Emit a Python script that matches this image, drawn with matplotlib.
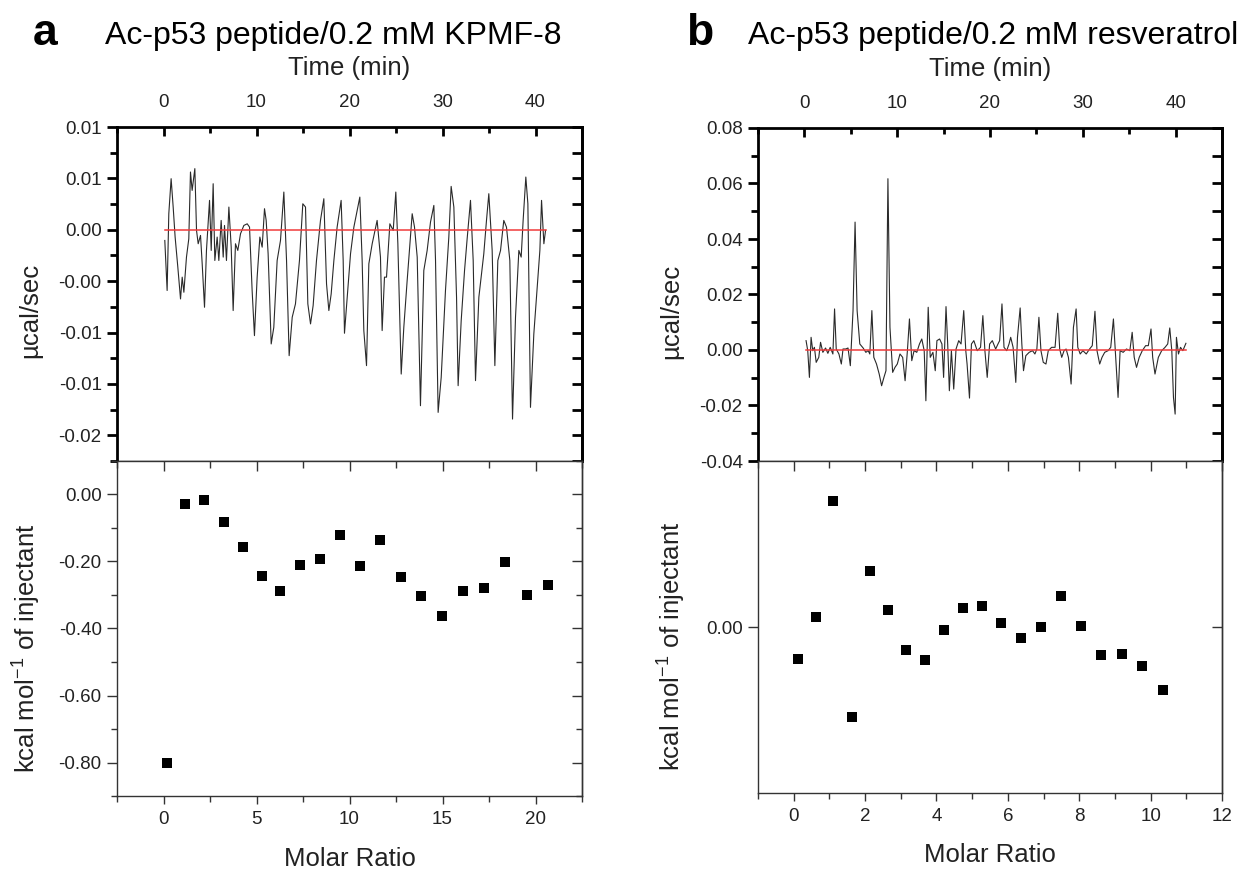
import numpy as np
import matplotlib
matplotlib.use("Agg")
import matplotlib.pyplot as plt
from matplotlib.ticker import MultipleLocator, FormatStrFormatter, NullLocator

plt.rcParams['font.family'] = ['Liberation Sans', 'DejaVu Sans']
plt.rcParams['mathtext.fontset'] = 'custom'
plt.rcParams['mathtext.rm'] = 'Liberation Sans'

# raw ITC traces: (time in min, power in 1e-3 ucal/sec)
trace_a = [
    (0.14, -1.04), (0.39, -5.91), (0.57, 1.56), (0.82, 4.97), (1.04, 2.21), (1.25, -0.71),
    (1.54, -3.64), (1.83, -6.73), (2.01, -4.61), (2.19, -6.08), (2.47, -2.66), (2.72, -0.88),
    (2.90, 5.62), (3.08, 3.83), (3.37, 5.95), (3.55, -0.06), (3.73, -1.36), (3.98, -0.55),
    (4.16, -3.31), (4.41, -7.54), (4.62, -2.01), (4.95, 2.86), (5.13, -2.01), (5.34, 4.48),
    (5.52, -2.99), (5.77, -0.71), (5.95, -2.99), (6.20, 0.91), (6.42, -2.66), (6.56, 0.42),
    (6.77, -2.99), (7.03, 2.21), (7.28, -1.69), (7.49, -7.86), (7.74, -1.36), (7.99, -2.01),
    (8.28, -0.39), (8.64, 0.42), (9.00, 0.58), (9.25, 0.26), (9.53, -5.91), (9.78, -10.30),
    (10.07, -4.61), (10.36, -0.71), (10.61, -1.69), (10.86, 2.05), (11.04, 0.91), (11.25, -2.34),
    (11.58, -11.11), (11.86, -9.49), (12.22, -2.99), (12.58, -1.04), (12.94, 3.67), (13.23, -2.99),
    (13.51, -12.25), (13.84, -8.51), (14.19, -7.21), (14.62, -2.99), (14.98, 2.53), (15.27, 2.21),
    (15.52, -7.21), (15.81, -9.16), (16.09, -7.37), (16.45, -2.99), (16.88, 0.91), (17.24, 3.02),
    (17.53, -5.26), (17.78, -7.86), (18.03, -6.24), (18.32, -2.99), (18.67, 0.26), (19.10, 2.86),
    (19.32, -2.99), (19.46, -10.07), (19.75, -6.56), (20.11, -2.34), (20.47, 0.26), (20.82, 1.88),
    (21.11, 3.18), (21.36, -2.99), (21.54, -9.81), (21.83, -13.22), (22.08, -3.31), (22.44, -1.36),
    (22.97, 0.91), (23.33, -2.66), (23.51, -9.81), (23.76, -4.61), (23.98, -4.61), (24.34, 0.58),
    (24.70, -0.06), (24.98, 3.67), (25.20, -1.36), (25.56, -14.04), (25.84, -9.49), (26.20, -4.94),
    (26.74, 1.56), (26.99, 0.26), (27.28, -2.66), (27.63, -17.12), (27.99, -3.96), (28.35, -2.01),
    (28.71, 0.75), (29.07, 2.37), (29.25, -2.99), (29.53, -17.77), (29.86, -14.36), (30.32, -5.91),
    (30.68, -0.71), (30.93, 4.22), (31.22, 2.21), (31.51, -6.56), (31.68, -15.17), (32.01, -8.84),
    (32.37, -3.96), (32.65, -0.88), (33.01, 2.86), (33.30, -2.99), (33.55, -14.68), (33.91, -6.56),
    (34.44, -2.34), (34.73, 0.91), (34.98, 3.51), (35.34, -2.01), (35.63, -13.22), (35.95, -2.99),
    (36.24, -2.01), (36.59, 0.91), (36.88, 0.26), (37.24, -2.99), (37.53, -18.42), (37.85, -8.51),
    (38.21, -2.01), (38.46, -2.66), (38.67, 0.91), (38.96, 5.13), (39.18, 2.53), (39.46, -17.28),
    (39.82, -10.14), (40.18, -5.59), (40.47, -2.01), (40.65, 2.86), (40.90, -1.36), (41.08, -0.06),
]

trace_b = [
    (0.18, 3.37), (0.36, -0.24), (0.54, -9.87), (0.72, 4.57), (0.90, -0.24), (1.08, 0.96),
    (1.27, -4.45), (1.55, -2.65), (1.74, 2.77), (1.99, -0.84), (2.28, 0.72), (2.53, -1.20),
    (2.78, 0.96), (3.07, -1.44), (3.25, 14.80), (3.43, 0.36), (3.72, -1.44), (3.98, -5.05),
    (4.16, 0.36), (4.45, 0.36), (4.70, 0.72), (4.95, -5.66), (5.24, 14.20), (5.46, 46.09),
    (5.68, 14.20), (5.97, 2.17), (6.33, 0.72), (6.62, -0.84), (6.87, -0.24), (7.05, -1.44),
    (7.27, 14.20), (7.48, -2.65), (7.77, -5.05), (8.06, -8.66), (8.32, -12.88), (8.57, -9.87),
    (8.79, -7.46), (9.00, 61.73), (9.22, 8.18), (9.51, -8.06), (9.76, -6.26), (10.01, -5.05),
    (10.30, -1.44), (10.59, -2.65), (10.85, -11.07), (11.10, -0.24), (11.32, 11.19), (11.57, -3.85),
    (11.82, -0.24), (12.11, -0.84), (12.40, 2.17), (12.65, 3.97), (12.91, -0.24), (13.09, -18.29),
    (13.34, 15.40), (13.56, -2.65), (13.85, -0.84), (14.10, -7.46), (14.28, 3.37), (14.57, 3.97),
    (14.82, 2.17), (15.00, -9.87), (15.26, 15.64), (15.44, 2.17), (15.62, -14.68), (15.84, -0.24),
    (16.09, -14.08), (16.34, 0.36), (16.63, 3.37), (16.88, 2.17), (17.17, 14.20), (17.39, -0.24),
    (17.53, -5.05), (17.79, -17.33), (18.00, 2.17), (18.26, 3.37), (18.62, -0.24), (18.98, 0.96),
    (19.23, 12.39), (19.45, -0.24), (19.70, -9.87), (19.96, 2.17), (20.25, 3.37), (20.61, 0.36),
    (20.86, 2.17), (21.04, 3.37), (21.29, 16.61), (21.51, 0.96), (21.80, -0.24), (22.05, 2.17),
    (22.23, 4.57), (22.49, 0.96), (22.78, -11.67), (22.96, 4.57), (23.25, 15.16), (23.43, 2.17),
    (23.61, -7.46), (23.86, -2.05), (24.22, -0.84), (24.58, -0.24), (24.84, -1.44), (25.05, 0.36),
    (25.27, 11.79), (25.49, -0.24), (25.74, -4.45), (26.03, -5.05), (26.28, -0.24), (26.64, 0.96),
    (27.01, 0.96), (27.30, 13.24), (27.51, 0.36), (27.73, -2.65), (27.98, -0.24), (28.20, 0.36),
    (28.45, -2.65), (28.74, -12.27), (28.99, 8.18), (29.28, 14.80), (29.46, 0.96), (29.72, -1.44),
    (30.01, -0.24), (30.37, -1.44), (30.73, 0.36), (31.02, 1.56), (31.31, 13.96), (31.53, -0.24),
    (31.82, -5.05), (32.07, -2.65), (32.36, -0.84), (32.72, -0.24), (33.01, 0.96), (33.30, 11.19),
    (33.55, -2.65), (33.80, -17.09), (34.02, -0.24), (34.35, -0.84), (34.71, 0.36), (35.07, -0.24),
    (35.32, 6.38), (35.54, -2.65), (35.79, -6.26), (36.08, -2.65), (36.41, -0.24), (36.77, 1.56),
    (37.06, 1.56), (37.35, 7.58), (37.53, -2.65), (37.78, -8.66), (38.14, -2.65), (38.50, -0.24),
    (38.86, 0.96), (39.15, 2.17), (39.37, 7.94), (39.59, -0.24), (39.77, -17.09), (39.95, -23.10),
    (40.09, 4.57), (40.31, -1.44), (40.53, 0.96), (40.78, -0.24), (41.11, 2.41),
]

baseline_a = [0.14, 41.1]
baseline_b = [0.18, 41.1]

# integrated heats per injection
ratio_a = [0.2, 1.18, 2.2, 3.23, 4.25, 5.27, 6.29, 7.35, 8.4, 9.5, 10.57, 11.66, 12.75,
           13.86, 14.96, 16.1, 17.23, 18.37, 19.52, 20.68]
heat_a = [-0.80, -0.028, -0.016, -0.083, -0.157, -0.244, -0.287, -0.21, -0.192, -0.122,
          -0.214, -0.135, -0.247, -0.304, -0.363, -0.289, -0.279, -0.202, -0.30, -0.27]

ratio_b = [0.12, 0.62, 1.11, 1.62, 2.13, 2.64, 3.16, 3.68, 4.21, 4.74, 5.28, 5.82, 6.37,
           6.93, 7.49, 8.06, 8.62, 9.19, 9.76, 10.36]
heat_b = [-0.048, 0.015, 0.19, -0.136, 0.085, 0.025, -0.034, -0.049, -0.005, 0.028, 0.031,
          0.006, -0.017, 0.0, 0.047, 0.0015, -0.042, -0.04, -0.059, -0.095]

ticks_a_top = [0.010, 0.005, 0.0, -0.005, -0.010, -0.015, -0.020]
labels_a_top = ['0.01', '0.01', '0.00', '-0.00', '-0.01', '-0.01', '-0.02']

TXT = '#222222'
LAB = 18.5
TCK = 13.5


def style_top(ax, xlim, ylim):
    ax.set_xlim(*xlim)
    ax.set_ylim(*ylim)
    for s in ['left', 'top', 'right']:
        ax.spines[s].set_linewidth(2.0)
    ax.spines['bottom'].set_linewidth(1.0)
    ax.xaxis.tick_top()
    ax.xaxis.set_major_locator(MultipleLocator(10))
    ax.xaxis.set_minor_locator(MultipleLocator(5))
    ax.tick_params(axis='x', which='both', direction='in', top=True, bottom=False,
                   labelsize=TCK, labelcolor=TXT, pad=11.5, width=2)
    ax.tick_params(axis='x', which='major', length=6.5)
    ax.tick_params(axis='x', which='minor', length=4.5)
    ax.tick_params(axis='y', which='both', direction='out', left=True, right=False,
                   labelsize=TCK, labelcolor=TXT, pad=4, width=2)
    ax.tick_params(axis='y', which='major', length=7)
    ax.tick_params(axis='y', which='minor', length=5)
    ax.set_xlabel('Time (min)', fontsize=LAB, color=TXT)
    ax.xaxis.set_label_position('top')
    ax.xaxis.set_label_coords(0.5, 1.155)
    ax.set_ylabel('µcal/sec', fontsize=LAB, color=TXT)
    ax.yaxis.set_label_coords(-0.161, 0.452)
    sec = ax.secondary_yaxis('right')
    sec.spines['right'].set_linewidth(2.0)
    sec.tick_params(axis='y', which='both', direction='in', labelright=False, width=2)
    sec.tick_params(axis='y', which='major', length=7)
    sec.tick_params(axis='y', which='minor', length=7)
    return sec


def style_bottom(ax, xlim, ylim):
    ax.set_xlim(*xlim)
    ax.set_ylim(*ylim)
    for s in ax.spines.values():
        s.set_linewidth(1.0)
        s.set_color('#333333')
    ax.spines['top'].set_visible(False)
    ax.tick_params(axis='both', which='both', direction='out', top=False, right=False,
                   labelsize=TCK, labelcolor=TXT, color='#333333', width=1)
    ax.tick_params(axis='x', which='major', length=6, pad=5)
    ax.tick_params(axis='x', which='minor', length=4)
    ax.tick_params(axis='y', which='major', length=7, pad=4)
    ax.tick_params(axis='y', which='minor', length=4)
    ax.set_xlabel('Molar Ratio', fontsize=LAB, color=TXT)
    ax.xaxis.set_label_coords(0.5, -0.152)
    ax.set_ylabel(r'kcal mol$^{\mathregular{-1}}$ of injectant', fontsize=LAB, color=TXT)


def inner_ticks(ax, xmaj, xmin, yticks=None, ymaj=None, ymin=None):
    top = ax.secondary_xaxis('top')
    top.xaxis.set_major_locator(MultipleLocator(xmaj))
    top.xaxis.set_minor_locator(MultipleLocator(xmin))
    top.spines['top'].set_linewidth(1.0)
    top.spines['top'].set_color('#333333')
    top.tick_params(which='both', direction='in', color='#333333', width=1, labeltop=False)
    top.tick_params(which='major', length=7)
    top.tick_params(which='minor', length=5)
    right = ax.secondary_yaxis('right')
    if yticks is not None:
        right.set_yticks(yticks)
        right.yaxis.set_minor_locator(NullLocator())
    else:
        right.yaxis.set_major_locator(MultipleLocator(ymaj))
        right.yaxis.set_minor_locator(MultipleLocator(ymin))
    right.spines['right'].set_linewidth(1.0)
    right.spines['right'].set_color('#333333')
    right.tick_params(which='both', direction='in', color='#333333', width=1,
                      labelright=False)
    right.tick_params(which='major', length=7)
    right.tick_params(which='minor', length=4)


fig = plt.figure(figsize=(12.4, 8.72), dpi=100)

# ---- panel a ----
ax_at = fig.add_axes([117 / 1240, 1 - 461 / 872, 465 / 1240, 334 / 872])
ta, pa = np.array(trace_a).T
ax_at.plot(ta, pa * 1e-3, color='#2a2a2a', lw=0.8)
ax_at.plot(baseline_a, [0, 0], color='#f03a3a', lw=1.1)
sec = style_top(ax_at, (-5, 45), (-0.0225, 0.010))
ax_at.set_yticks(ticks_a_top, labels_a_top)
ax_at.yaxis.set_minor_locator(MultipleLocator(0.0025))
sec.set_yticks(ticks_a_top)
sec.yaxis.set_minor_locator(MultipleLocator(0.0025))

ax_ab = fig.add_axes([117 / 1240, 1 - 796 / 872, 465 / 1240, 335 / 872])
ax_ab.plot(ratio_a, heat_a, 's', color='black', ms=7.5, mew=0)
style_bottom(ax_ab, (-2.5, 22.5), (-0.9, 0.1))
ax_ab.xaxis.set_major_locator(MultipleLocator(5))
ax_ab.xaxis.set_minor_locator(MultipleLocator(2.5))
ax_ab.yaxis.set_major_locator(MultipleLocator(0.2))
ax_ab.yaxis.set_minor_locator(MultipleLocator(0.1))
ax_ab.yaxis.set_major_formatter(FormatStrFormatter('%.2f'))
ax_ab.yaxis.set_label_coords(-0.161, 0.442)
inner_ticks(ax_ab, 5, 2.5, ymaj=0.2, ymin=0.1)

# ---- panel b ----
ax_bt = fig.add_axes([758 / 1240, 1 - 461 / 872, 464 / 1240, 333 / 872])
tb, pb = np.array(trace_b).T
ax_bt.plot(tb, pb * 1e-3, color='#2a2a2a', lw=0.8)
ax_bt.plot(baseline_b, [0, 0], color='#f03a3a', lw=1.1)
sec = style_top(ax_bt, (-5, 45), (-0.04, 0.08))
ax_bt.yaxis.set_major_locator(MultipleLocator(0.02))
ax_bt.yaxis.set_minor_locator(MultipleLocator(0.01))
ax_bt.yaxis.set_major_formatter(FormatStrFormatter('%.2f'))
sec.yaxis.set_major_locator(MultipleLocator(0.02))
sec.yaxis.set_minor_locator(MultipleLocator(0.01))
ax_bt.yaxis.set_label_coords(-0.162, 0.45)

ax_bb = fig.add_axes([758 / 1240, 1 - 793 / 872, 464 / 1240, 332 / 872])
ax_bb.plot(ratio_b, heat_b, 's', color='black', ms=7.5, mew=0)
style_bottom(ax_bb, (-1, 12), (-0.25, 0.25))
ax_bb.xaxis.set_major_locator(MultipleLocator(2))
ax_bb.xaxis.set_minor_locator(MultipleLocator(1))
ax_bb.set_yticks([0.0], ['0.00'])
ax_bb.yaxis.set_minor_locator(NullLocator())
ax_bb.yaxis.set_label_coords(-0.153, 0.443)
inner_ticks(ax_bb, 2, 1, yticks=[0.0])

# ---- panel letters and titles ----
fig.text(45 / 1240, 1 - 45 / 872, 'a', fontsize=32, fontweight='bold', ha='center',
         va='baseline')
fig.text(333 / 1240, 1 - 44 / 872, 'Ac-p53 peptide/0.2 mM KPMF-8', fontsize=23,
         ha='center', va='baseline', color='black')
fig.text(700 / 1240, 1 - 45 / 872, 'b', fontsize=32, fontweight='bold', ha='center',
         va='baseline')
fig.text(993 / 1240, 1 - 44 / 872, 'Ac-p53 peptide/0.2 mM resveratrol', fontsize=23,
         ha='center', va='baseline', color='black')

fig.savefig('out.png', dpi=100)
